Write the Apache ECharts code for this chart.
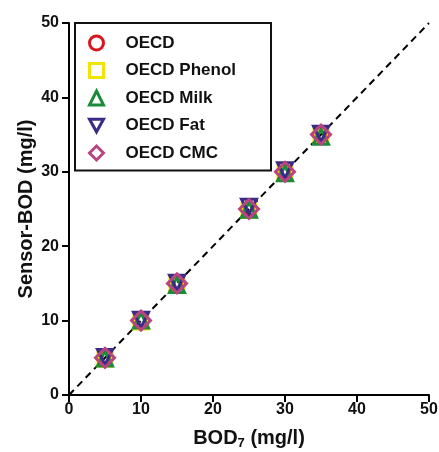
<!DOCTYPE html>
<html><head><meta charset="utf-8">
<script src="https://cdn.jsdelivr.net/npm/echarts@6/dist/echarts.min.js"></script>
<style>html,body{margin:0;padding:0;background:#fff}#c{width:439px;height:452px}</style>
</head><body><div id="c"></div>
<script>
const bod7 = [5, 10, 15, 25, 30, 35];
const oecd = [5.0, 10.0, 15.0, 25.0, 30.0, 35.0];
const oecdPhenol = [4.8, 9.8, 14.9, 24.8, 29.8, 34.8];
const oecdMilk = [4.9, 10.0, 14.8, 24.9, 29.8, 34.7];
const oecdFat = [5.1, 10.1, 15.1, 25.3, 30.2, 35.1];
const oecdCmc = [5.0, 10.0, 15.0, 25.0, 30.0, 35.0];
const identityLine = [[0, 0], [50, 50]];
const axisTicks = [0, 10, 20, 30, 40, 50];

const seriesDefs = [
  {name: 'OECD', y: oecd, symbol: 'circle', size: 13, color: '#d8141c'},
  {name: 'OECD Phenol', y: oecdPhenol, symbol: 'rect', size: 14, color: '#f1e400'},
  {name: 'OECD Milk', y: oecdMilk, symbol: 'triangle', size: 15, color: '#1b8a3a'},
  {name: 'OECD Fat', y: oecdFat, symbol: 'path://M0,0 L10,0 L5,9 Z', size: 15, color: '#3a2b86'},
  {name: 'OECD CMC', y: oecdCmc, symbol: 'diamond', size: 19, color: '#b8457f'}
];

const chart = echarts.init(document.getElementById('c'), null, {renderer: 'canvas'});
const FONT = 'Liberation Sans, Arial, sans-serif';
const axisCommon = {
  type: 'value', min: 0, max: 50, interval: 10,
  axisLine: {show: true, lineStyle: {color: '#000', width: 2}},
  axisTick: {show: true, length: 7, lineStyle: {color: '#000', width: 2}},
  splitLine: {show: false},
  axisLabel: {color: '#111', fontSize: 16, fontWeight: 'bold', fontFamily: FONT}
};
chart.setOption({
  animation: false,
  backgroundColor: '#fff',
  grid: {left: 69, right: 10, top: 23, bottom: 57, containLabel: false, outerBoundsMode: 'none'},
  xAxis: Object.assign({}, axisCommon, {
    name: '{a|BOD}{s|7}{a| (mg/l)}', nameLocation: 'middle', nameGap: 31, nameMoveOverlap: false,
    nameTextStyle: {rich: {
      a: {fontSize: 20, fontWeight: 'bold', fontFamily: FONT, color: '#111'},
      s: {fontSize: 13, fontWeight: 'bold', fontFamily: FONT, color: '#111', padding: [11, 0, 0, 0]}
    }},
    axisLabel: Object.assign({}, axisCommon.axisLabel, {margin: 7})
  }),
  yAxis: Object.assign({}, axisCommon, {
    name: 'Sensor-BOD (mg/l)', nameLocation: 'middle', nameGap: 33, nameMoveOverlap: false,
    nameTextStyle: {fontSize: 20, fontWeight: 'bold', fontFamily: FONT, color: '#111'},
    axisLabel: Object.assign({}, axisCommon.axisLabel, {margin: 10})
  }),
  legend: {
    orient: 'vertical', left: 75, top: 23,
    padding: [11.5, 35, 9, 13],
    itemGap: 10.5, itemWidth: 14, itemHeight: 14,
    borderColor: '#111', borderWidth: 2,
    textStyle: {fontSize: 17, fontWeight: 'bold', fontFamily: FONT, color: '#111', padding: [0, 0, 0, 17]},
    itemStyle: {borderWidth: 3},
    data: seriesDefs.map(d => ({name: d.name, icon: d.symbol}))
  },
  series: [{
    type: 'line', data: identityLine, symbol: 'none', silent: true,
    lineStyle: {color: '#000', width: 2, type: [7, 5]}, z: 1
  }].concat(seriesDefs.map(d => ({
    type: 'scatter', name: d.name,
    data: bod7.map((x, i) => [x, d.y[i]]),
    symbol: d.symbol, symbolSize: d.size,
    itemStyle: {color: 'rgba(255,255,255,0)', borderColor: d.color, borderWidth: 3, opacity: 1},
    z: 3
  })))
});
</script></body></html>
